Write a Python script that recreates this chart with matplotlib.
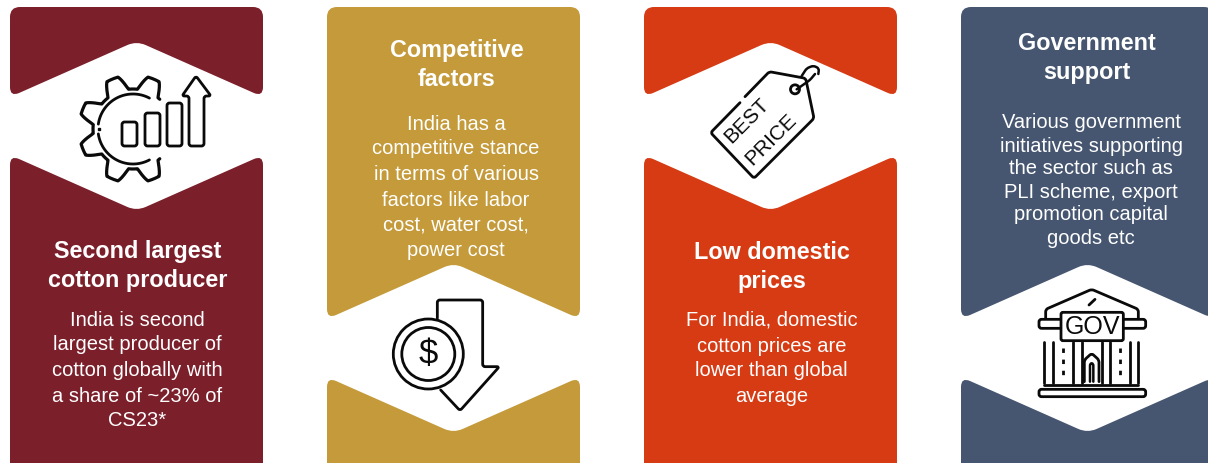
import numpy as np
import matplotlib
matplotlib.use('Agg')
import matplotlib.pyplot as plt
from matplotlib.path import Path
from matplotlib.patches import PathPatch, Circle, FancyBboxPatch

plt.rcParams['font.family'] = ['Liberation Sans', 'DejaVu Sans']

# --- Content ---
TITLES = [
    ['Second largest', 'cotton producer'],
    ['Competitive', 'factors'],
    ['Low domestic', 'prices'],
    ['Government', 'support'],
]
BODIES = [
    ['India is second', 'largest producer of', 'cotton globally with', 'a share of ~23% of', 'CS23*'],
    ['India has a', 'competitive stance', 'in terms of various', 'factors like labor', 'cost, water cost,', 'power cost'],
    ['For India, domestic', 'cotton prices are', 'lower than global', 'average'],
    ['Various government', 'initiatives supporting', 'the sector such as', 'PLI scheme, export', 'promotion capital', 'goods etc'],
]
COLORS = ['#7B1F2B', '#C49A3A', '#D63B14', '#465670']

# --- Layout (pixels) ---
PANEL_X = [(10, 263), (327, 580), (644, 897), (961, 1214)]
TOP = 7
BOTTOM = 480
# side y / apex y of the notch cut into each panel
NOTCH = [(97, 41, 155, 211), (319, 263, 377, 433), (97, 41, 155, 211), (319, 263, 377, 433)]
TITLE_Y = [(251.5, 280.5), (50.5, 79.5), (252.5, 281.5), (43.5, 72.5)]
BODY_Y = [
    [320, 345, 371, 396, 421],
    [124, 149, 175, 200, 226, 251],
    [320, 346, 371, 397],
    [123, 146, 169, 192, 215, 238],
]
TITLE_X = [137.5, 456.5, 772, 1087]
BODY_X = [137.5, 456, 771.5, 1091]
BLACK = '#0a0a0a'
LW = 2.0


def rounded(points, r=10, closed=True):
    # polygon or polyline with quadratic rounded corners
    pts = [np.array(p, float) for p in points]
    n = len(pts)
    verts, codes = [], []
    if not closed:
        verts.append(pts[0])
        codes.append(Path.MOVETO)
    for i in range(n):
        if not closed and i in (0, n - 1):
            continue
        p, a, b = pts[i], pts[i - 1], pts[(i + 1) % n]
        ra = min(r, np.linalg.norm(a - p) / 2)
        rb = min(r, np.linalg.norm(b - p) / 2)
        s = p + (a - p) / np.linalg.norm(a - p) * ra
        e = p + (b - p) / np.linalg.norm(b - p) * rb
        verts.append(s)
        codes.append(Path.MOVETO if closed and i == 0 else Path.LINETO)
        verts += [p, e]
        codes += [Path.CURVE3, Path.CURVE3]
    if closed:
        verts.append(verts[0])
        codes.append(Path.CLOSEPOLY)
    else:
        verts.append(pts[-1])
        codes.append(Path.LINETO)
    return Path(verts, codes)


def line(ax, pts, lw=LW, ox=0, oy=0, scale=1, closed=False):
    pts = [(ox + p[0] * scale, oy + p[1] * scale) for p in pts]
    if len(pts) == 2:
        ax.plot(*zip(*pts), color=BLACK, lw=lw, solid_capstyle='round', zorder=3)
        return
    ax.add_patch(PathPatch(rounded(pts, r=2.5, closed=closed), fill=False, ec=BLACK, lw=lw,
                           capstyle='round', joinstyle='round', zorder=3))


def gear_icon(ax):
    cx, cy = 133, 129
    ang = np.radians(np.linspace(48, 312, 400))
    # 8 teeth around the wheel, open on the right side
    rad = 47 + 7 * np.clip(1.6 * np.cos(8 * (ang - np.radians(22.5))), -1, 1)
    ax.plot(cx + rad * np.cos(ang), cy - rad * np.sin(ang), color=BLACK, lw=LW + 0.3, zorder=3,
            solid_capstyle='round')
    for a0, a1 in [(62, 172), (188, 298)]:
        a = np.radians(np.linspace(a0, a1, 80))
        ax.plot(cx + 35 * np.cos(a), cy - 35 * np.sin(a), color=BLACK, lw=LW, zorder=3, solid_capstyle='round')
    ax.plot([99], [129], 's', color=BLACK, ms=2, zorder=3)
    for x0, x1, y0 in [(122, 137, 122), (145, 160, 113), (167, 182, 103)]:
        line(ax, [(x0, 146), (x0, y0), (x1, y0), (x1, 146)], closed=True)
    line(ax, [(189, 146), (189, 96), (182, 96), (196, 76), (211, 96), (204, 96), (204, 146)], closed=True)


def dollar_icon(ax):
    ox, oy = 320, 250
    s = 1 / 3
    line(ax, [(352, 205), (352, 150), (488, 150), (488, 350), (538, 350), (420, 482), (362, 420)],
         ox=ox, oy=oy, scale=s)
    for r in (35, 26.5):
        ax.add_patch(Circle((428.3, 354), r, fill=False, ec=BLACK, lw=LW, zorder=3))
    ax.text(428.3, 355, '$', color=BLACK, fontsize=25, ha='center', va='center', zorder=3)


def tag_icon(ax):
    ox, oy = 640, 0
    s = 1 / 3
    line(ax, [(300, 308), (212, 398), (342, 535), (522, 355), (497, 235), (388, 215), (315, 290)],
         ox=ox, oy=oy, scale=s)
    ax.add_patch(Circle((640 + 465 * s, 268 * s), 4.5, fill=False, ec=BLACK, lw=LW, zorder=3))
    line(ax, [(470, 268), (510, 240), (525, 222)], lw=1.8, ox=ox, oy=oy, scale=s)
    line(ax, [(485, 228), (500, 205), (520, 197), (537, 205), (535, 222)], lw=1.8, ox=ox, oy=oy, scale=s)
    for txt, x, y in [('BEST', 320, 362), ('PRICE', 392, 420)]:
        ax.text(ox + x * s, y * s, txt, color=BLACK, fontsize=15, rotation=45, rotation_mode='anchor',
                ha='center', va='center', zorder=3)


def gov_icon(ax):
    ox, oy = 955, 250
    s = 1 / 3
    line(ax, [(272, 205), (272, 178), (410, 118), (550, 178), (550, 205)], ox=ox, oy=oy, scale=s)
    line(ax, [(402, 165), (420, 148)], ox=ox, oy=oy, scale=s)
    line(ax, [(318, 208), (252, 208), (252, 235), (318, 235)], ox=ox, oy=oy, scale=s)
    line(ax, [(505, 208), (572, 208), (572, 235), (505, 235)], ox=ox, oy=oy, scale=s)
    ax.add_patch(FancyBboxPatch((955 + 318 * s, 250 + 187 * s), 187 * s, 85 * s,
                                boxstyle='round,pad=0,rounding_size=2', fc='white', ec=BLACK, lw=LW, zorder=3))
    ax.text(955 + 411 * s, 250 + 231 * s, 'GOV', color=BLACK, fontsize=18, ha='center', va='center', zorder=4)
    for x in (268, 295, 355, 380, 440, 465, 525, 550):
        line(ax, [(x, 275), (x, 400)], ox=ox, oy=oy, scale=s)
    for x in (325, 495):
        ax.plot([955 + x * s] * 2, [250 + 295 * s, 250 + 380 * s], color=BLACK, lw=LW,
                ls=(0, (1.6, 2.4)), zorder=3)
    line(ax, [(388, 395), (388, 330), (410, 310), (432, 330), (432, 395)], ox=ox, oy=oy, scale=s)
    line(ax, [(405, 395), (405, 340), (415, 340), (415, 395)], lw=1.8, ox=ox, oy=oy, scale=s)
    line(ax, [(268, 405), (550, 405)], ox=ox, oy=oy, scale=s)
    line(ax, [(252, 418), (572, 418), (572, 440), (252, 440)], ox=ox, oy=oy, scale=s, closed=True)


fig = plt.figure(figsize=(12.08, 4.63), dpi=100)
ax = fig.add_axes([0, 0, 1, 1])
ax.set_xlim(0, 1208)
ax.set_ylim(463, 0)
ax.axis('off')

for i, color in enumerate(COLORS):
    x0, x1 = PANEL_X[i]
    mid = (x0 + x1) / 2
    s0, a0, s1, a1 = NOTCH[i]
    upper = [(x0, TOP), (x1, TOP), (x1, s0), (mid, a0), (x0, s0)]
    lower = [(x0, s1), (mid, a1), (x1, s1), (x1, BOTTOM), (x0, BOTTOM)]
    for poly in (upper, lower):
        ax.add_patch(PathPatch(rounded(poly), fc=color, ec='none', zorder=1))
    for txt, y in zip(TITLES[i], TITLE_Y[i]):
        ax.text(TITLE_X[i], y, txt, color='white', fontsize=16.8, fontweight='bold',
                ha='center', va='center', zorder=2)
    for txt, y in zip(BODIES[i], BODY_Y[i]):
        ax.text(BODY_X[i], y, txt, color='white', fontsize=14.5, ha='center', va='center', zorder=2)

gear_icon(ax)
dollar_icon(ax)
tag_icon(ax)
gov_icon(ax)

fig.savefig('out.png', dpi=100, facecolor='white')
